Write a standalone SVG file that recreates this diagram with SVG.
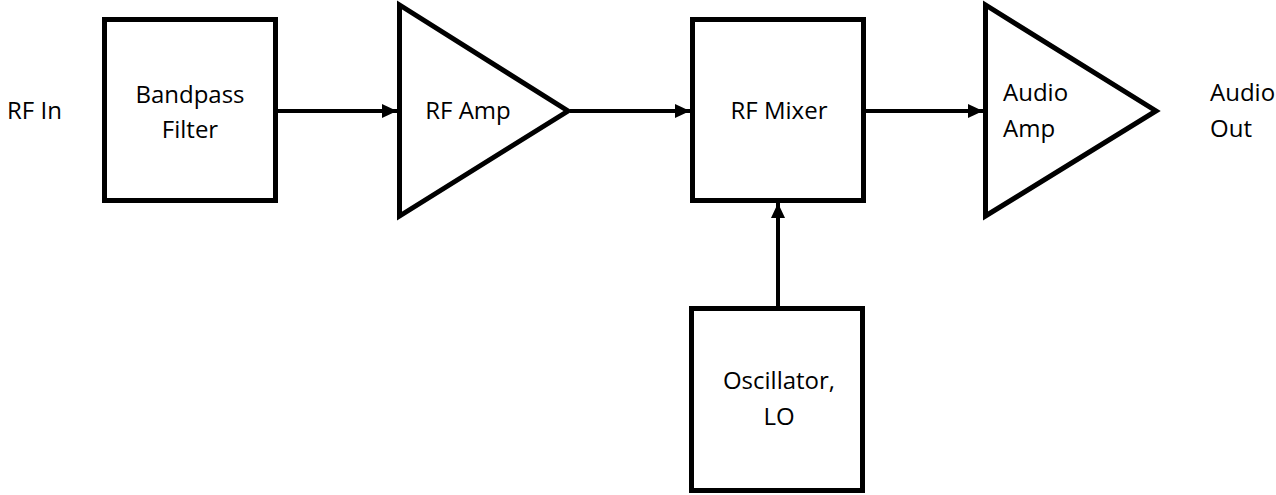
<svg xmlns="http://www.w3.org/2000/svg" width="1276" height="495" viewBox="0 0 1276 495">
<style>
.box{fill:#fff;stroke:#000;stroke-width:5}
.amp{fill:#fff;stroke:#000;stroke-width:5;stroke-linejoin:miter}
.wire{fill:none;stroke:#000;stroke-width:4}
text{font-family:"Open Sans","Noto Sans",sans-serif;font-size:24px;fill:#000}
.c{text-anchor:middle}
</style>
<defs>
<marker id="ah" markerUnits="userSpaceOnUse" markerWidth="16" markerHeight="14" refX="15" refY="7" orient="auto">
<path d="M0,0 L15,7 L0,14 Z" fill="#000"/>
</marker>
</defs>
<rect width="1276" height="495" fill="#fff"/>
<g id="connectors">
<line class="wire" x1="278" y1="111" x2="397" y2="111" marker-end="url(#ah)"/>
<line class="wire" x1="570" y1="111" x2="690" y2="111" marker-end="url(#ah)"/>
<line class="wire" x1="866" y1="111" x2="983" y2="111" marker-end="url(#ah)"/>
<line class="wire" x1="778" y1="307" x2="778" y2="203" marker-end="url(#ah)"/>
</g>
<g id="rf-in"><text x="7" y="119">RF In</text></g>
<g id="bandpass">
<rect class="box" x="104.5" y="19.5" width="171" height="181"/>
<text class="c" x="190" y="103">Bandpass</text>
<text class="c" x="190" y="138">Filter</text>
</g>
<g id="rf-amp">
<polygon class="amp" points="399.5,5 399.5,216 568,111"/>
<text class="c" x="468" y="119">RF Amp</text>
</g>
<g id="rf-mixer">
<rect class="box" x="692.5" y="19.5" width="171" height="181"/>
<text class="c" x="779" y="119">RF Mixer</text>
</g>
<g id="audio-amp">
<polygon class="amp" points="985.5,5 985.5,216 1156,111"/>
<text x="1003" y="101">Audio</text>
<text x="1003" y="137">Amp</text>
</g>
<g id="audio-out">
<text x="1210" y="101">Audio</text>
<text x="1210" y="137">Out</text>
</g>
<g id="oscillator">
<rect class="box" x="691.5" y="308.5" width="171" height="182"/>
<text class="c" x="779" y="389">Oscillator,</text>
<text class="c" x="779" y="425">LO</text>
</g>
</svg>
